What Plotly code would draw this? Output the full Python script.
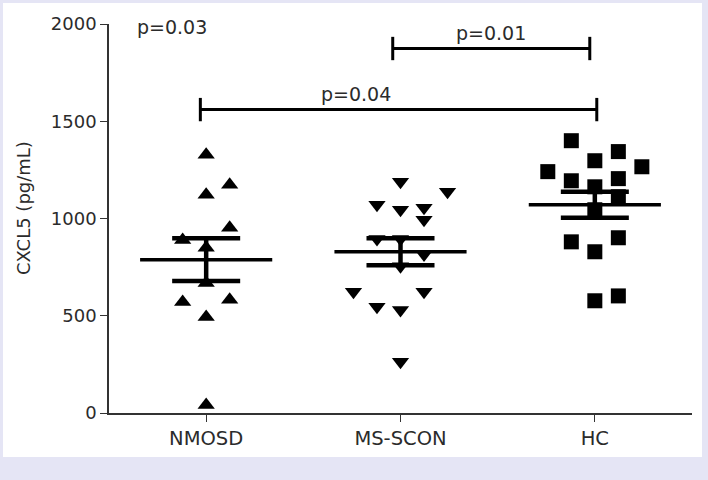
import numpy as np
import plotly.graph_objects as go

# ---- data ----
categories = ["NMOSD", "MS-SCON", "HC"]
nmosd_values = [1328, 1174, 1122, 952, 890, 850, 669, 571, 582, 494, 41]
msscon_values = [1189, 1138, 1071, 1045, 1055, 994, 895, 895, 815, 755, 623, 623, 546, 530, 263]
hc_values = [1400, 1344, 1297, 1266, 1241, 1194, 1205, 1163, 1112, 1045, 880, 901, 829, 577, 602]
y_ticks = [0, 500, 1000, 1500, 2000]

# scatter column placement (jitter columns, in steps)
nmosd_cols = [0, 1, 0, 1, -1, 0, 0, -1, 1, 0, 0]
msscon_cols = [0, 2, -1, 0, 1, 1, -1, 0, 1, 0, -2, 1, -1, 0, 0]
hc_cols = [-1, 1, 0, 2, -2, -1, 1, 0, 1, 0, -1, 1, 0, 0, 1]

# significance labels
bracket_labels = ["p=0.01", "p=0.04"]
bracket_from = [1, 0]
bracket_to = [2, 2]
bracket_level = [1874, 1560]
overall_label = "p=0.03"
y_title = "CXCL5 (pg/mL)"

# ---- styling ----
FONT = "DejaVu Sans"
TXT = "#2b2b2b"
BG = "#e5e5f5"
step = 0.121
symbols = ["triangle-up", "triangle-down", "square"]
sizes = [15, 15, 15]

groups = [nmosd_values, msscon_values, hc_values]
cols = [nmosd_cols, msscon_cols, hc_cols]

fig = go.Figure()

for i, (vals, cc) in enumerate(zip(groups, cols)):
    xs = [i + c * step for c in cc]
    fig.add_trace(go.Scatter(
        x=xs, y=vals, mode="markers",
        marker=dict(symbol=symbols[i], size=sizes[i], color="black", line=dict(width=0)),
        showlegend=False, hoverinfo="skip"))

for i, vals in enumerate(groups):
    arr = np.array(vals, dtype=float)
    m = arr.mean()
    sem = arr.std(ddof=1) / np.sqrt(len(arr))
    fig.add_trace(go.Scatter(x=[i - 0.34, i + 0.34], y=[m, m], mode="lines",
                             line=dict(color="black", width=3.5), showlegend=False, hoverinfo="skip"))
    for yv in (m - sem, m + sem):
        fig.add_trace(go.Scatter(x=[i - 0.175, i + 0.175], y=[yv, yv], mode="lines",
                                 line=dict(color="black", width=4.5), showlegend=False, hoverinfo="skip"))
    fig.add_trace(go.Scatter(x=[i, i], y=[m - sem, m + sem], mode="lines",
                             line=dict(color="black", width=4.5), showlegend=False, hoverinfo="skip"))

# brackets
tick_h = 60
for lab, a, b, lv in zip(bracket_labels, bracket_from, bracket_to, bracket_level):
    if a == 0:
        xa, xb = a - 0.03, b + 0.01
        lx = (xa + xb) / 2 - 0.22
    else:
        xa, xb = a - 0.04, b - 0.026
        lx = (xa + xb) / 2
    fig.add_trace(go.Scatter(x=[xa, xb], y=[lv, lv], mode="lines",
                             line=dict(color="black", width=3), showlegend=False, hoverinfo="skip"))
    for xe in (xa, xb):
        fig.add_trace(go.Scatter(x=[xe, xe], y=[lv - tick_h, lv + tick_h], mode="lines",
                                 line=dict(color="black", width=3), showlegend=False, hoverinfo="skip"))
    fig.add_annotation(x=lx, y=lv + 82, text=lab,
                       showarrow=False, font=dict(family=FONT, size=19, color=TXT),
                       xanchor="center", yanchor="middle")

fig.add_annotation(x=-0.175, y=1987, text=overall_label, showarrow=False,
                   font=dict(family=FONT, size=19, color=TXT), xanchor="center", yanchor="middle")

fig.add_annotation(xref="paper", yref="paper", x=-0.1458, y=0.527, text=y_title, textangle=-90,
                   showarrow=False, font=dict(family=FONT, size=18, color=TXT),
                   xanchor="center", yanchor="middle")

fig.add_shape(type="rect", xref="paper", yref="paper",
              x0=-0.1818, x1=1.0172, y0=-0.1131, y1=1.054,
              fillcolor="white", line=dict(width=0), layer="below")

fig.update_layout(
    width=708, height=480,
    margin=dict(l=109, r=16, t=24, b=67),
    paper_bgcolor=BG, plot_bgcolor="white",
    font=dict(family=FONT, size=18, color=TXT),
    showlegend=False,
    xaxis=dict(range=[-0.5, 2.5], tickmode="array", tickvals=[0, 1, 2], ticktext=categories,
               showline=True, linecolor="#333333", linewidth=1.5, ticks="outside",
               ticklen=7, tickwidth=1.2, tickcolor="#333333", showgrid=False, zeroline=False,
               tickfont=dict(family=FONT, size=19.5, color=TXT)),
    yaxis=dict(range=[0, 2000], tickmode="array", tickvals=y_ticks,
               showline=True, linecolor="#333333", linewidth=1.5, ticks="outside",
               ticklen=7, tickwidth=1.2, tickcolor="#333333", showgrid=False, zeroline=False,
               tickfont=dict(family=FONT, size=18, color=TXT)),
)

fig.write_html("out.html", config={"displayModeBar": False},
               post_script="document.body.style.margin='0';document.body.style.background='%s';" % BG)
